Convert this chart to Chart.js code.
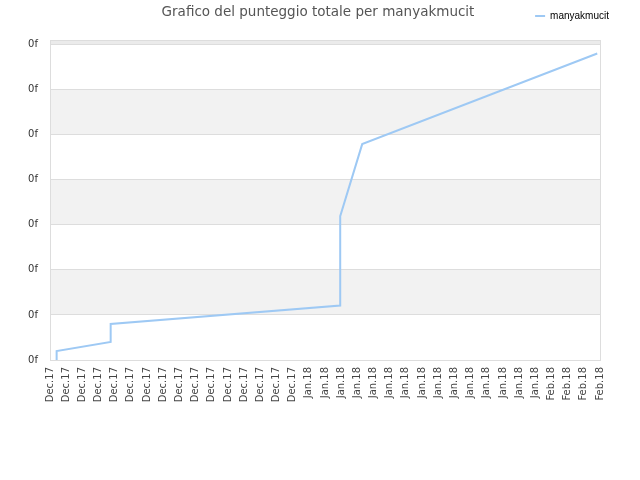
<!DOCTYPE html>
<html>
<head>
    <script src="https://cdn.jsdelivr.net/npm/chart.js@4.4.0/dist/chart.umd.min.js"></script>
    <title>Grafico del punteggio totale</title>
    <style>
        body { margin: 0; background: #fff; }
        #graph-area { width: 640px; height: 480px; }
    </style>
</head>
<body>
<div id="graph-area">
<canvas id="myChart" width="640" height="480"></canvas>
</div>

<script>
    var chartTitle = 'Grafico del punteggio totale per manyakmucit';
    var seriesName = 'manyakmucit';

    // x axis labels, one per tick
    var dateLabels = [
        'Dec.17','Dec.17','Dec.17','Dec.17','Dec.17','Dec.17','Dec.17','Dec.17',
        'Dec.17','Dec.17','Dec.17','Dec.17','Dec.17','Dec.17','Dec.17','Dec.17',
        'Jan.18','Jan.18','Jan.18','Jan.18','Jan.18','Jan.18','Jan.18','Jan.18',
        'Jan.18','Jan.18','Jan.18','Jan.18','Jan.18','Jan.18','Jan.18',
        'Feb.18','Feb.18','Feb.18','Feb.18'
    ];

    // score series (position along the date axis, value)
    var pointPos = [0.41, 0.41, 3.75, 3.75, 17.94, 17.94, 19.3, 33.83];
    var pointScore = [0, 0.2, 0.4, 0.8, 1.21, 3.19, 4.79, 6.8];

    // y tick text (the original prints a broken format string)
    var yTickText = '0f';

    var seriesData = [];
    for (var i = 0; i < pointPos.length; i++) {
        seriesData.push({x: pointPos[i], y: pointScore[i]});
    }

    // alternating bands + frame around the plot
    var bandsPlugin = {
        id: 'bands',
        beforeDraw: function(chart) {
            var ctx = chart.ctx;
            var area = chart.chartArea;
            var ys = chart.scales.y;
            ctx.save();
            for (var v = 0; v < 8; v++) {
                if (v % 2 == 1) {
                    var top = ys.getPixelForValue(Math.min(v + 1, ys.max));
                    var bot = ys.getPixelForValue(v);
                    ctx.fillStyle = (v == 7) ? '#ebebeb' : '#f2f2f2';
                    ctx.fillRect(area.left, top, area.right - area.left, bot - top);
                }
            }
            ctx.restore();
        },
        afterDatasetsDraw: function(chart) {
            var ctx = chart.ctx;
            var area = chart.chartArea;
            ctx.save();
            ctx.strokeStyle = '#dddddd';
            ctx.lineWidth = 1;
            ctx.strokeRect(area.left + 0.5, area.top + 0.5, area.right - area.left, area.bottom - area.top);
            ctx.restore();
        },
        afterDraw: function(chart) {
            // title sits on the same row as the legend
            var ctx = chart.ctx;
            ctx.save();
            ctx.font = '13.5px "DejaVu Sans"';
            ctx.fillStyle = '#555555';
            ctx.textAlign = 'center';
            ctx.textBaseline = 'middle';
            ctx.fillText(chartTitle, 318, 12);
            ctx.restore();
        }
    };

    var ctx = document.getElementById('myChart').getContext('2d');
    var myChart = new Chart(ctx, {
        type: 'line',
        data: {
            datasets: [
                {
                    label: seriesName,
                    data: seriesData,
                    borderColor: '#9ec9f4',
                    backgroundColor: '#9ec9f4',
                    borderWidth: 2,
                    pointRadius: 0,
                    tension: 0,
                    fill: false
                }
            ]
        },
        options: {
            responsive: false,
            animation: false,
            layout: {
                padding: {top: 1, right: 21, left: 0, bottom: 0}
            },
            scales: {
                x: {
                    type: 'linear',
                    min: 0,
                    max: dateLabels.length - 1,
                    afterFit: function(scale) { scale.height = 120; },
                    afterBuildTicks: function(scale) {
                        var t = [];
                        for (var k = 0; k < dateLabels.length; k++) t.push({value: k});
                        scale.ticks = t;
                    },
                    ticks: {
                        autoSkip: false,
                        minRotation: 90,
                        maxRotation: 90,
                        padding: 7,
                        color: '#444444',
                        font: {family: 'DejaVu Sans', size: 10},
                        callback: function(value) { return dateLabels[value]; }
                    },
                    grid: {display: false, drawTicks: false},
                    border: {color: '#d0d0d0'}
                },
                // empty strips so the legend can sit above / past the plot edge
                xTop: {
                    type: 'linear',
                    position: 'top',
                    display: true,
                    afterFit: function(scale) { scale.height = 9; },
                    ticks: {display: false},
                    grid: {display: false, drawTicks: false},
                    border: {display: false}
                },
                y: {
                    type: 'linear',
                    min: 0,
                    max: 7.1,
                    afterFit: function(scale) { scale.width = 50; },
                    afterBuildTicks: function(scale) {
                        var t = [];
                        for (var k = 0; k <= 7; k++) t.push({value: k});
                        scale.ticks = t;
                    },
                    ticks: {
                        padding: 12,
                        color: '#333333',
                        font: {family: 'DejaVu Sans', size: 10},
                        callback: function() { return yTickText; }
                    },
                    grid: {color: '#dddddd', drawTicks: false},
                    border: {display: false}
                },
                yRight: {
                    position: 'right',
                    display: true,
                    afterFit: function(scale) { scale.width = 19; },
                    ticks: {display: false},
                    grid: {display: false, drawTicks: false},
                    border: {display: false}
                }
            },
            plugins: {
                legend: {
                    position: 'top',
                    align: 'end',
                    labels: {
                        usePointStyle: true,
                        pointStyle: 'line',
                        pointStyleWidth: 10,
                        boxWidth: 10,
                        color: '#000000',
                        font: {family: 'Liberation Sans', size: 10},
                        padding: 10
                    }
                },
                title: {display: false},
                tooltip: {enabled: false}
            }
        },
        plugins: [bandsPlugin]
    });
</script>

</body>
</html>
